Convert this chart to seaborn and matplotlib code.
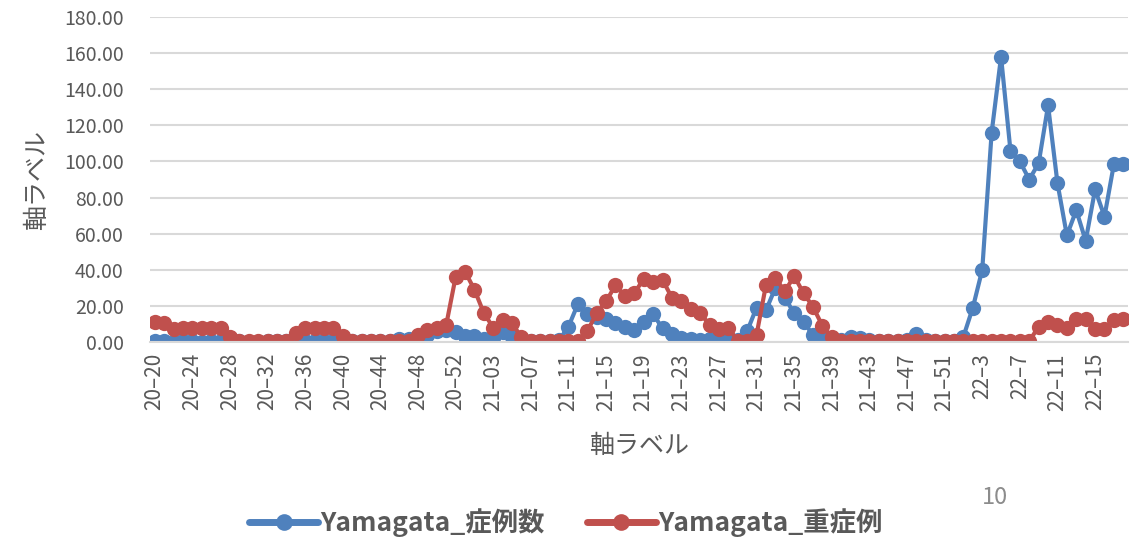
import matplotlib
matplotlib.use("Agg")
import matplotlib.pyplot as plt
import seaborn as sns
import pandas as pd

# week labels: 2020 w20-w53, 2021 w01-w52, 2022 w1-w18
weeks = ([f"20–{w}" for w in range(20, 54)]
         + [f"21–{w:02d}" for w in range(1, 53)]
         + [f"22–{w}" for w in range(1, 19)])

cases = [0.3, 0.3, 0.2, 0.3, 0.3, 0.2, 0.3, 0.3, 0.5, 0.3,
         0.2, 0.2, 0.3, 0.3, 0.3, 0.5, 0.5, 0.3, 0.3, 0.3,
         0.3, 0.5, 0.5, 0.5, 0.5, 0.8, 1.5, 1.5, 2.0, 4.0,
         6.0, 6.5, 5.5, 3.5, 3.5, 1.5, 2.0, 5.5, 3.0, 0.5,
         0.5, 0.5, 0.5, 1.0, 8.5, 21.0, 15.5, 14.0, 12.5, 10.5,
         8.5, 6.5, 11.0, 15.5, 7.5, 4.5, 2.0, 1.5, 1.0, 1.5,
         2.0, 2.0, 1.0, 6.0, 19.0, 17.5, 30.0, 24.5, 16.0, 11.0,
         4.0, 3.0, 1.5, 1.0, 2.5, 2.0, 1.0, 0.5, 0.5, 0.5,
         1.0, 4.5, 1.0, 0.5, 0.5, 0.5, 3.0, 19.0, 40.0, 116.0,
         158.0, 106.0, 100.0, 90.0, 99.0, 131.0, 88.0, 59.0, 73.0, 56.0,
         84.5, 69.5, 98.5, 98.5]

severe = [11.0, 10.5, 7.0, 7.5, 7.5, 7.5, 7.5, 7.5, 2.5, 0.5,
          0.5, 0.5, 0.5, 0.5, 0.5, 5.0, 7.5, 7.5, 7.5, 7.5,
          3.5, 0.5, 0.5, 0.5, 0.5, 0.5, 0.5, 0.5, 4.0, 6.5,
          7.5, 9.5, 36.0, 39.0, 29.0, 16.0, 8.0, 12.0, 10.5, 2.5,
          0.5, 0.5, 0.5, 0.5, 0.5, 0.5, 6.0, 16.0, 22.5, 31.5,
          25.5, 27.0, 35.0, 33.0, 34.5, 24.5, 22.5, 18.5, 16.0, 9.5,
          7.0, 8.0, 0.5, 0.5, 4.0, 31.5, 35.5, 28.0, 36.5, 27.0,
          19.5, 9.0, 2.5, 0.5, 0.5, 0.5, 0.5, 0.5, 0.5, 0.5,
          0.5, 0.5, 0.5, 0.5, 0.5, 0.5, 0.5, 0.5, 0.5, 0.5,
          0.5, 0.5, 0.5, 0.5, 8.5, 11.0, 9.5, 8.0, 13.0, 13.0,
          7.0, 7.0, 12.0, 13.0]

series_names = ["Yamagata_症例数", "Yamagata_重症例"]
colors = ["#4F81BD", "#C0504D"]

n = len(weeks)
df = pd.DataFrame({
    "idx": list(range(n)) * 2,
    "value": cases + severe,
    "series": [series_names[0]] * n + [series_names[1]] * n,
})

sns.set_theme(style="white")
plt.rcParams["font.family"] = ["Noto Sans CJK JP", "DejaVu Sans"]

fig, ax = plt.subplots(figsize=(11.32, 5.37), dpi=100)
fig.subplots_adjust(left=150 / 1132, right=1128 / 1132, top=1 - 17 / 537, bottom=1 - 342 / 537)

sns.lineplot(data=df, x="idx", y="value", hue="series", palette=colors,
             marker="o", markersize=11, markeredgewidth=0, linewidth=3,
             ax=ax)

ax.set_ylim(0, 180)
ax.set_xlim(-0.5, n - 0.5)
ax.set_yticks(range(0, 181, 20))
ax.set_yticklabels([f"{v:.2f}" for v in range(0, 181, 20)])
ax.set_xticks(range(0, n, 4))
ax.set_xticklabels(weeks[::4], rotation=90)
ax.tick_params(axis="y", length=0, pad=19, labelsize=14, labelcolor="#595959")
ax.tick_params(axis="x", length=0, pad=8, labelsize=15, labelcolor="#595959")
ax.yaxis.grid(True, color="#d9d9d9", linewidth=1.5)
ax.set_axisbelow(True)
for s in ["top", "right", "left"]:
    ax.spines[s].set_visible(False)
ax.spines["bottom"].set_color("#d9d9d9")
ax.spines["bottom"].set_linewidth(1.5)

ax.set_xlabel("軸ラベル", fontsize=18, color="#595959", labelpad=16)
ax.set_ylabel("軸ラベル", fontsize=18, color="#595959", labelpad=10)

handles, labels = ax.get_legend_handles_labels()
ax.get_legend().remove()
leg = fig.legend(handles, labels, loc="lower center", bbox_to_anchor=(0.5, -0.045), ncol=2,
                 frameon=False, handlelength=2.6, handletextpad=0.1, columnspacing=1.6,
                 prop={"weight": "bold", "size": 19})
for t in leg.get_texts():
    t.set_color("#595959")
for h in leg.legend_handles:
    h.set_linewidth(5)
    h.set_markersize(12)

fig.text(995 / 1132, 1 - 498 / 537, "10", fontsize=17, color="#8c8c8c",
         ha="center", va="center")

plt.savefig("out.png", dpi=100)
